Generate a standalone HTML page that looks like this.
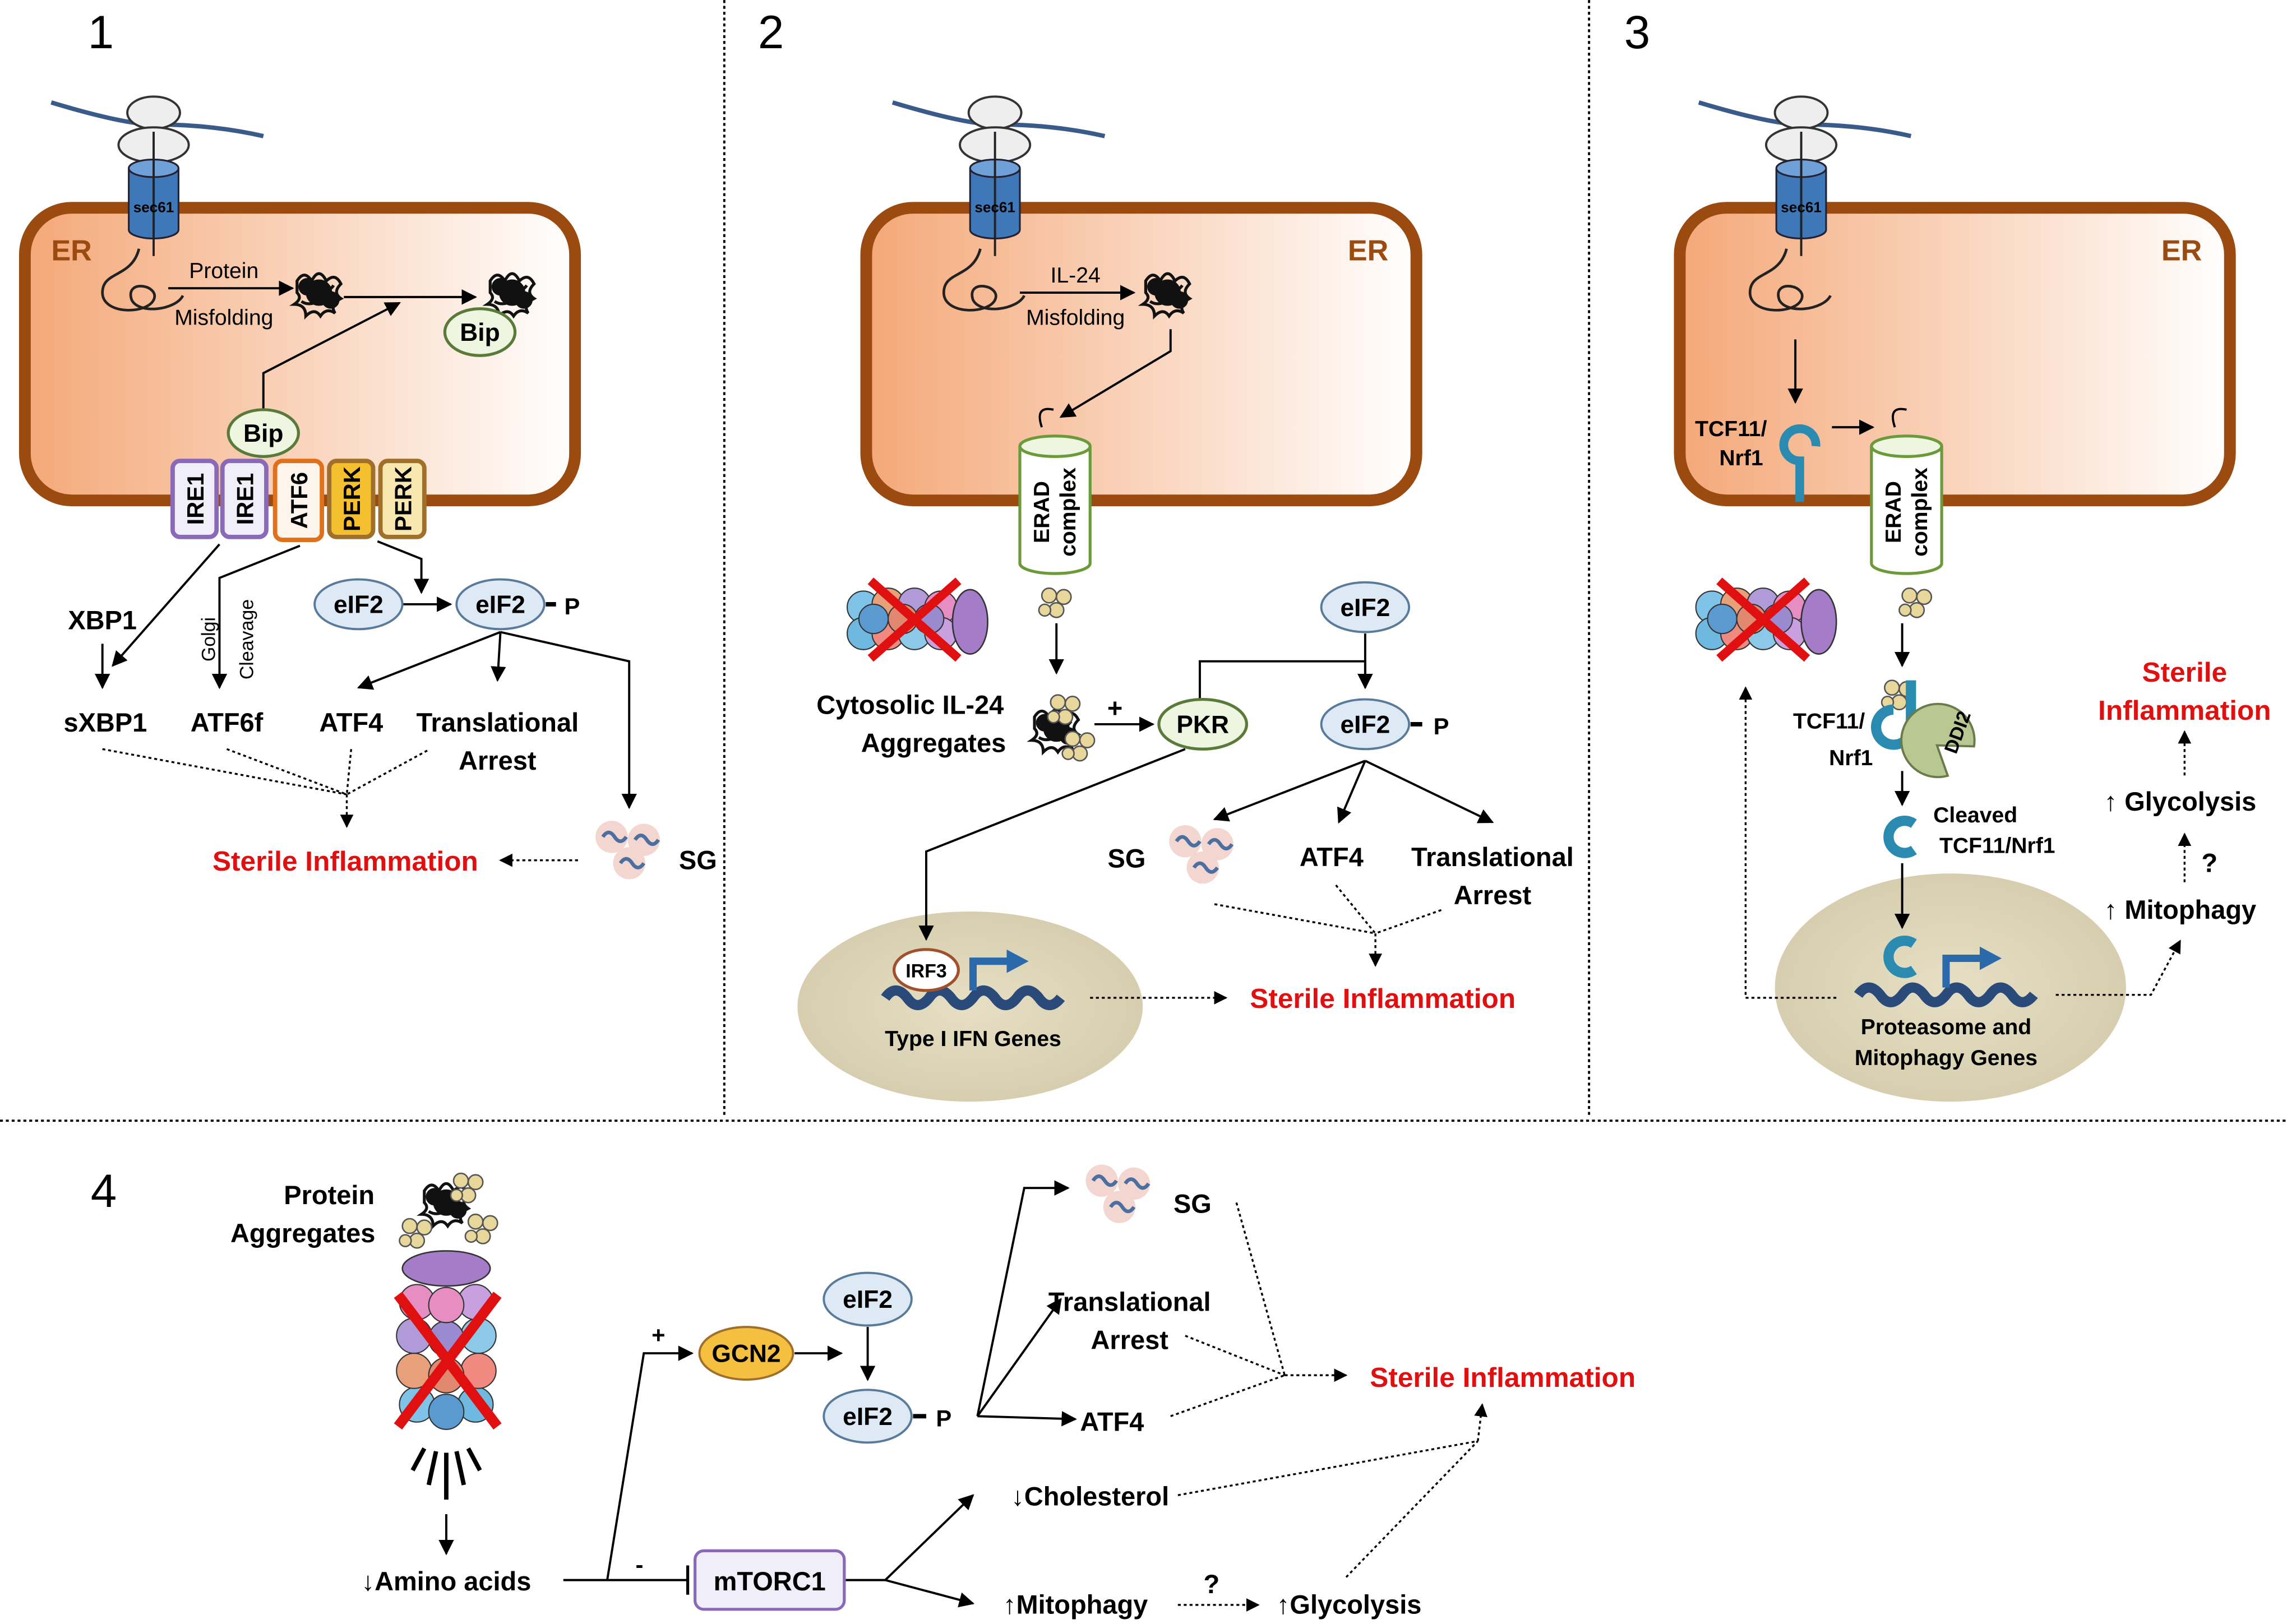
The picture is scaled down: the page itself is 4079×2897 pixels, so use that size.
<!DOCTYPE html>
<html><head><meta charset="utf-8"><style>html,body{margin:0;padding:0;background:#fff}svg{display:block}</style></head><body>
<svg xmlns="http://www.w3.org/2000/svg" xmlns:xlink="http://www.w3.org/1999/xlink" width="4079" height="2897" viewBox="0 0 1563 1110" font-family="Liberation Sans, sans-serif">
<defs>
<marker id="a" viewBox="0 0 10 10" refX="9" refY="5" markerWidth="7" markerHeight="7" orient="auto-start-reverse"><path d="M0,0L10,5L0,10z" fill="#000"/></marker>
<linearGradient id="er" x1="0" x2="1" y1="0" y2="0"><stop offset="0" stop-color="#f4a878"/><stop offset="1" stop-color="#fff"/></linearGradient>
<radialGradient id="nuc"><stop offset="0" stop-color="#e6dfc4"/><stop offset="1" stop-color="#d6ceae"/></radialGradient>
<g id="ribo"><path d="M-70,-25 Q-20,-10 0,-10 Q40,-10 75,-2" stroke="#3a5a8a" stroke-width="3" fill="none"/><ellipse cx="0" cy="-18" rx="18" ry="11" fill="#eee" stroke="#333" stroke-width="1.5"/><ellipse cx="0" cy="4" rx="24" ry="12" fill="#eee" stroke="#333" stroke-width="1.5"/>
<path d="M-17,20 v42 a17,6 0 0 0 34,0 v-42" fill="#3f78b8" stroke="#223" stroke-width="1.2"/><ellipse cx="0" cy="20" rx="17" ry="6" fill="#6fa0d8" stroke="#223" stroke-width="1.2"/><line x1="0" y1="-5" x2="0" y2="80" stroke="#222" stroke-width="1.5"/><text x="0" y="50" font-size="10" font-weight="bold" text-anchor="middle">sec61</text></g>
<g id="fold"><path d="M0,0 C-5,20 -25,15 -25,30 C-25,45 5,45 10,35 C15,25 -10,20 -5,35 C0,45 25,42 30,32" stroke="#222" stroke-width="1.8" fill="none"/></g>
<g id="agg" fill="none" stroke="#111" stroke-width="2"><path d="M-15,-8 q5,-8 10,0 q5,-10 10,0 q6,-6 10,2 q-6,6 0,10 q-8,4 -4,10 q-6,-4 -10,2 q-4,-6 -10,0 q0,-8 -8,-8 q6,-4 2,-8z"/><path d="M-10,0 q8,-4 14,2 q-4,6 -10,2 M0,-5 q6,6 10,0 M-12,6 q6,4 14,-2"/><circle cx="0" cy="0" r="8" fill="#111"/><circle cx="8" cy="5" r="5" fill="#111"/><circle cx="-8" cy="-4" r="5" fill="#111"/></g>
<g id="yb" fill="#e8d79a" stroke="#555" stroke-width="1"><circle cx="-5" cy="-5" r="5"/><circle cx="5" cy="-4" r="5"/><circle cx="0" cy="5" r="5"/><circle cx="-8" cy="5" r="4"/></g>
<g id="sg"><circle cx="-12" cy="-8" r="11" fill="#f3d6d0"/><circle cx="10" cy="-6" r="11" fill="#f3d6d0"/><circle cx="0" cy="10" r="11" fill="#f3d6d0"/><g stroke="#4a6fa0" stroke-width="2.5" fill="none"><path d="M-18,-8 q4,-6 8,0 q4,6 8,0"/><path d="M4,-6 q4,-6 8,0 q4,6 8,0"/><path d="M-6,10 q4,-6 8,0 q4,6 8,0"/></g></g>
<g id="prot"><g stroke="#333" stroke-width="0.8"><circle cx="-35" cy="-10" r="11" fill="#7fc4e8"/><circle cx="-18" cy="-12" r="11" fill="#e8a07a"/><circle cx="0" cy="-12" r="11" fill="#b09ad8"/><circle cx="18" cy="-10" r="11" fill="#e68ec4"/><circle cx="-35" cy="8" r="11" fill="#6fb8e0"/><circle cx="-18" cy="8" r="11" fill="#f08a80"/><circle cx="0" cy="8" r="11" fill="#8cc8e8"/><circle cx="18" cy="8" r="11" fill="#c8a0e0"/><circle cx="-28" cy="-2" r="10" fill="#5a9ad0"/><circle cx="-8" cy="-2" r="10" fill="#e08870"/><circle cx="10" cy="-2" r="10" fill="#9a8ad0"/></g><ellipse cx="38" cy="0" rx="12" ry="22" fill="#a47cc8" stroke="#333"/><path d="M-30,-28 L30,25 M30,-28 L-30,25" stroke="#e01010" stroke-width="6"/></g>
<g id="erad"><path d="M-24,0 v80 a24,7 0 0 0 48,0 v-80" fill="#fff" stroke="#6a9a3a" stroke-width="2"/><ellipse cx="0" cy="0" rx="24" ry="7" fill="#eef5e0" stroke="#6a9a3a" stroke-width="2"/><text transform="translate(-4,45) rotate(-90)" font-size="15" font-weight="bold" text-anchor="middle">ERAD</text><text transform="translate(14,45) rotate(-90)" font-size="15" font-weight="bold" text-anchor="middle">complex</text></g>
<g id="dna"><path d="M-60,0 q7,-10 15,0 q7,10 15,0 q7,-10 15,0 q7,10 15,0 q7,-10 15,0 q7,10 15,0 q7,-10 15,0 q7,10 15,0" stroke="#2a4a7a" stroke-width="7" fill="none"/><path d="M0,-5 v-20 h25" stroke="#2a6aaa" stroke-width="5" fill="none"/><path d="M23,-33 l15,8 l-15,8z" fill="#2a6aaa"/></g>
</defs>
<g stroke="#000" stroke-width="1.5" stroke-dasharray="2,2"><line x1="495" y1="0" x2="495" y2="762"/><line x1="1086" y1="0" x2="1086" y2="762"/><line x1="0" y1="766" x2="1563" y2="766"/></g>
<g font-size="32"><text x="60" y="33">1</text><text x="518" y="33">2</text><text x="1110" y="33">3</text><text x="62" y="825">4</text></g>

<!-- Panel 1 -->
<rect x="17" y="142" width="376" height="200" rx="32" fill="url(#er)" stroke="#9b4a10" stroke-width="8"/>
<text x="35" y="178" font-size="20" font-weight="bold" fill="#9b4a10">ER</text>
<use xlink:href="#ribo" x="105" y="95"/>
<use xlink:href="#fold" x="95" y="170"/>
<line x1="115" y1="197" x2="200" y2="197" stroke="#000" stroke-width="1.5" marker-end="url(#a)"/>
<text x="153" y="190" font-size="15" text-anchor="middle">Protein</text><text x="153" y="222" font-size="15" text-anchor="middle">Misfolding</text>
<use xlink:href="#agg" x="218" y="200"/><use xlink:href="#agg" x="350" y="200"/>
<line x1="235" y1="203" x2="325" y2="203" stroke="#000" stroke-width="1.5" marker-end="url(#a)"/>
<path d="M180,280 v-25 l93,-48" stroke="#000" stroke-width="1.5" fill="none" marker-end="url(#a)"/>
<ellipse cx="328" cy="227" rx="24" ry="16" fill="#eef5e0" stroke="#5a7a3a" stroke-width="2"/><text x="328" y="233" font-size="17" font-weight="bold" text-anchor="middle">Bip</text>
<ellipse cx="180" cy="296" rx="24" ry="16" fill="#eef5e0" stroke="#5a7a3a" stroke-width="2"/><text x="180" y="302" font-size="17" font-weight="bold" text-anchor="middle">Bip</text>
<g stroke-width="3"><rect x="118" y="315" width="30" height="52" rx="5" fill="#f0eef8" stroke="#8a6ab8"/><rect x="152" y="315" width="30" height="52" rx="5" fill="#f0eef8" stroke="#8a6ab8"/><rect x="188" y="315" width="32" height="54" rx="5" fill="#fdf4ec" stroke="#e0701a"/><rect x="225" y="315" width="30" height="52" rx="5" fill="#f5c030" stroke="#a0702a"/><rect x="260" y="315" width="30" height="52" rx="5" fill="#f8e8b0" stroke="#a0702a"/></g>
<g font-size="16" font-weight="bold" text-anchor="middle"><text transform="translate(139,341) rotate(-90)">IRE1</text><text transform="translate(173,341) rotate(-90)">IRE1</text><text transform="translate(210,342) rotate(-90)">ATF6</text><text transform="translate(246,341) rotate(-90)">PERK</text><text transform="translate(281,341) rotate(-90)">PERK</text></g>
<g stroke="#000" stroke-width="1.5" fill="none"><line x1="150" y1="372" x2="77" y2="455" marker-end="url(#a)"/><line x1="70" y1="440" x2="70" y2="470" marker-end="url(#a)"/><path d="M205,373 L150,395 V470" marker-end="url(#a)"/><path d="M258,370 L288,382 V405" marker-end="url(#a)"/><line x1="275" y1="413" x2="308" y2="413" marker-end="url(#a)"/><path d="M342,432 L245,470" marker-end="url(#a)"/><path d="M342,432 L340,465" marker-end="url(#a)"/><path d="M342,432 L430,452 V552" marker-end="url(#a)"/><line x1="373" y1="413" x2="380" y2="413" stroke-width="3"/></g>
<g font-size="18" font-weight="bold" text-anchor="middle"><text x="70" y="430">XBP1</text><text x="72" y="500">sXBP1</text><text x="155" y="500">ATF6f</text><text x="240" y="500">ATF4</text><text x="340" y="500">Translational</text><text x="340" y="526">Arrest</text><text x="477" y="594">SG</text><text x="391" y="420" font-size="16">P</text></g>
<text transform="translate(147,437) rotate(-90)" font-size="13" text-anchor="middle">Golgi</text><text transform="translate(173,437) rotate(-90)" font-size="13" text-anchor="middle">Cleavage</text>
<ellipse cx="245" cy="413" rx="30" ry="17" fill="#ddeaf6" stroke="#5a7a9a" stroke-width="1.5"/><text x="245" y="419" font-size="17" font-weight="bold" text-anchor="middle">eIF2</text>
<ellipse cx="342" cy="413" rx="30" ry="17" fill="#ddeaf6" stroke="#5a7a9a" stroke-width="1.5"/><text x="342" y="419" font-size="17" font-weight="bold" text-anchor="middle">eIF2</text>
<use xlink:href="#sg" x="430" y="580"/>
<g stroke="#000" stroke-width="1.3" stroke-dasharray="2,2" fill="none"><path d="M70,512 L237,543 M155,512 L237,543 M240,512 L237,543 M292,513 L237,543"/><line x1="237" y1="543" x2="237" y2="565" marker-end="url(#a)"/><line x1="395" y1="588" x2="342" y2="588" marker-end="url(#a)"/></g>
<text x="236" y="595" font-size="19" font-weight="bold" fill="#e01010" text-anchor="middle">Sterile Inflammation</text>

<!-- Panel 2 -->
<rect x="592" y="142" width="376" height="200" rx="32" fill="url(#er)" stroke="#9b4a10" stroke-width="8"/>
<text x="935" y="178" font-size="20" font-weight="bold" fill="#9b4a10" text-anchor="middle">ER</text>
<use xlink:href="#ribo" x="680" y="95"/>
<use xlink:href="#fold" x="670" y="170"/>
<line x1="697" y1="200" x2="775" y2="200" stroke="#000" stroke-width="1.5" marker-end="url(#a)"/>
<text x="735" y="193" font-size="15" text-anchor="middle">IL-24</text><text x="735" y="222" font-size="15" text-anchor="middle">Misfolding</text>
<use xlink:href="#agg" x="798" y="200"/>
<path d="M800,225 V240 L725,285" stroke="#000" stroke-width="1.5" fill="none" marker-end="url(#a)"/>
<path d="M712,292 q-5,-15 8,-12" stroke="#000" stroke-width="1.5" fill="none"/>
<use xlink:href="#erad" x="721" y="305"/>
<use xlink:href="#yb" x="722" y="412"/>
<use xlink:href="#prot" x="625" y="425"/>
<text x="622" y="488" font-size="18" font-weight="bold" text-anchor="middle">Cytosolic IL-24</text><text x="638" y="514" font-size="18" font-weight="bold" text-anchor="middle">Aggregates</text>
<use xlink:href="#agg" x="722" y="498"/><use xlink:href="#yb" x="728" y="485"/><use xlink:href="#yb" x="738" y="510"/>
<ellipse cx="663" cy="688" rx="118" ry="65" fill="url(#nuc)"/>
<g stroke="#000" stroke-width="1.5" fill="none"><line x1="722" y1="426" x2="722" y2="460" marker-end="url(#a)"/><line x1="748" y1="495" x2="788" y2="495" marker-end="url(#a)"/><path d="M820,478 V452 H933 V470" marker-end="url(#a)"/><line x1="933" y1="433" x2="933" y2="470" marker-end="url(#a)"/><path d="M933,520 L830,560" marker-end="url(#a)"/><path d="M933,520 L915,562" marker-end="url(#a)"/><path d="M933,520 L1020,562" marker-end="url(#a)"/><path d="M810,512 L633,582 V642" marker-end="url(#a)"/><line x1="964" y1="495" x2="972" y2="495" stroke-width="3"/></g>
<text x="762" y="490" font-size="18" font-weight="bold" text-anchor="middle">+</text>
<ellipse cx="822" cy="495" rx="30" ry="17" fill="#eef5e0" stroke="#5a7a3a" stroke-width="2"/><text x="822" y="501" font-size="17" font-weight="bold" text-anchor="middle">PKR</text>
<ellipse cx="933" cy="415" rx="30" ry="17" fill="#ddeaf6" stroke="#5a7a9a" stroke-width="1.5"/><text x="933" y="421" font-size="17" font-weight="bold" text-anchor="middle">eIF2</text>
<ellipse cx="933" cy="495" rx="30" ry="17" fill="#ddeaf6" stroke="#5a7a9a" stroke-width="1.5"/><text x="933" y="501" font-size="17" font-weight="bold" text-anchor="middle">eIF2</text>
<text x="985" y="502" font-size="16" font-weight="bold" text-anchor="middle">P</text>
<g font-size="18" font-weight="bold" text-anchor="middle"><text x="770" y="593">SG</text><text x="910" y="592">ATF4</text><text x="1020" y="592">Translational</text><text x="1020" y="618">Arrest</text></g>
<use xlink:href="#sg" x="822" y="583"/>
<use xlink:href="#dna" x="665" y="682"/>
<ellipse cx="633" cy="663" rx="22" ry="14" fill="#fff" stroke="#a0502a" stroke-width="2"/><text x="633" y="668" font-size="13" font-weight="bold" text-anchor="middle">IRF3</text>
<text x="665" y="715" font-size="15" font-weight="bold" text-anchor="middle">Type I IFN Genes</text>
<g stroke="#000" stroke-width="1.3" stroke-dasharray="2,2" fill="none"><path d="M830,618 L940,638 M913,605 L940,638 M985,622 L940,638"/><line x1="940" y1="638" x2="940" y2="660" marker-end="url(#a)"/><line x1="745" y1="682" x2="838" y2="682" marker-end="url(#a)"/></g>
<text x="945" y="689" font-size="19" font-weight="bold" fill="#e01010" text-anchor="middle">Sterile Inflammation</text>

<!-- Panel 3 -->
<rect x="1148" y="142" width="376" height="200" rx="32" fill="url(#er)" stroke="#9b4a10" stroke-width="8"/>
<text x="1491" y="178" font-size="20" font-weight="bold" fill="#9b4a10" text-anchor="middle">ER</text>
<use xlink:href="#ribo" x="1231" y="95"/>
<use xlink:href="#fold" x="1221" y="170"/>
<ellipse cx="1333" cy="675" rx="120" ry="78" fill="url(#nuc)"/>
<g stroke="#000" stroke-width="1.5" fill="none"><line x1="1227" y1="232" x2="1227" y2="275" marker-end="url(#a)"/><line x1="1252" y1="292" x2="1280" y2="292" marker-end="url(#a)"/><line x1="1300" y1="426" x2="1300" y2="455" marker-end="url(#a)"/><line x1="1300" y1="527" x2="1300" y2="550" marker-end="url(#a)"/><line x1="1300" y1="590" x2="1300" y2="634" marker-end="url(#a)"/></g>
<path d="M1295,292 q-5,-15 8,-12" stroke="#000" stroke-width="1.5" fill="none"/>
<text x="1183" y="298" font-size="15" font-weight="bold" text-anchor="middle">TCF11/</text><text x="1190" y="318" font-size="15" font-weight="bold" text-anchor="middle">Nrf1</text>
<g transform="translate(1230,305)"><path d="M0,38 v-28 a11,11 0 1 1 11,-10" stroke="#2a8ab0" stroke-width="6" fill="none"/></g>
<use xlink:href="#erad" x="1303" y="305"/>
<use xlink:href="#yb" x="1310" y="412"/>
<use xlink:href="#prot" x="1205" y="425"/>
<use xlink:href="#yb" x="1298" y="475"/>
<path d="M1306,465 v30 a12,12 0 1 1 -12,-10" stroke="#2a8ab0" stroke-width="7" fill="none"/>
<path d="M1330,480 a25,25 0 1 1 -10,25 l24,-8z" fill="#b8c890" stroke="#6a7a4a" stroke-width="1.5" transform="rotate(200 1335 505)"/>
<text transform="translate(1342,502) rotate(-70)" font-size="13" font-weight="bold" text-anchor="middle">DDI2</text>
<text x="1250" y="498" font-size="15" font-weight="bold" text-anchor="middle">TCF11/</text><text x="1265" y="523" font-size="15" font-weight="bold" text-anchor="middle">Nrf1</text>
<path d="M1308,563 a11,11 0 1 0 0,18" stroke="#2a8ab0" stroke-width="7" fill="none"/>
<text x="1350" y="562" font-size="15" font-weight="bold" text-anchor="middle">Cleaved</text><text x="1365" y="583" font-size="15" font-weight="bold" text-anchor="middle">TCF11/Nrf1</text>
<use xlink:href="#dna" x="1330" y="680"/>
<path d="M1308,645 a11,11 0 1 0 0,18" stroke="#2a8ab0" stroke-width="7" fill="none"/>
<text x="1330" y="707" font-size="15" font-weight="bold" text-anchor="middle">Proteasome and</text><text x="1330" y="728" font-size="15" font-weight="bold" text-anchor="middle">Mitophagy Genes</text>
<g stroke="#000" stroke-width="1.3" stroke-dasharray="2,2" fill="none"><path d="M1255,682 H1193 V470" marker-end="url(#a)"/><path d="M1405,680 H1470 L1490,643" marker-end="url(#a)"/><line x1="1493" y1="603" x2="1493" y2="570" marker-end="url(#a)"/><line x1="1493" y1="530" x2="1493" y2="500" marker-end="url(#a)"/></g>
<g font-size="18" font-weight="bold" text-anchor="middle"><text x="1490" y="628">↑ Mitophagy</text><text x="1510" y="596">?</text><text x="1490" y="554">↑ Glycolysis</text></g>
<text x="1493" y="466" font-size="19" font-weight="bold" fill="#e01010" text-anchor="middle">Sterile</text><text x="1493" y="492" font-size="19" font-weight="bold" fill="#e01010" text-anchor="middle">Inflammation</text>

<!-- Panel 4 -->
<text x="225" y="823" font-size="18" font-weight="bold" text-anchor="middle">Protein</text><text x="207" y="849" font-size="18" font-weight="bold" text-anchor="middle">Aggregates</text>
<use xlink:href="#agg" x="305" y="822"/><use xlink:href="#yb" x="285" y="843"/><use xlink:href="#yb" x="330" y="840"/><use xlink:href="#yb" x="320" y="812"/>
<g transform="translate(305,925) rotate(-90)">
<g stroke="#333" stroke-width="0.8"><circle cx="-35" cy="-20" r="12" fill="#7fc4e8"/><circle cx="-12" cy="-22" r="12" fill="#e8a07a"/><circle cx="12" cy="-22" r="12" fill="#b09ad8"/><circle cx="35" cy="-20" r="12" fill="#e68ec4"/><circle cx="-35" cy="20" r="12" fill="#6fb8e0"/><circle cx="-12" cy="22" r="12" fill="#f08a80"/><circle cx="12" cy="22" r="12" fill="#8cc8e8"/><circle cx="35" cy="20" r="12" fill="#c8a0e0"/><circle cx="-40" cy="0" r="12" fill="#5a9ad0"/><circle cx="-15" cy="0" r="12" fill="#e08870"/><circle cx="10" cy="0" r="12" fill="#9a8ad0"/><circle cx="33" cy="0" r="12" fill="#e68ec4"/></g>
<ellipse cx="58" cy="0" rx="12" ry="30" fill="#a47cc8" stroke="#333"/></g>
<path d="M272,885 L340,975 M340,885 L272,975" stroke="#e01010" stroke-width="7"/>
<g stroke="#000" stroke-width="3"><line x1="290" y1="990" x2="282" y2="1005"/><line x1="298" y1="992" x2="293" y2="1015"/><line x1="305" y1="993" x2="305" y2="1025"/><line x1="312" y1="992" x2="317" y2="1015"/><line x1="320" y1="990" x2="328" y2="1005"/></g>
<g stroke="#000" stroke-width="1.5" fill="none"><line x1="305" y1="1035" x2="305" y2="1062" marker-end="url(#a)"/><path d="M385,1080 H415 L440,925 H473" marker-end="url(#a)"/><line x1="415" y1="1080" x2="470" y2="1080"/><line x1="470" y1="1070" x2="470" y2="1090" stroke-width="2"/><line x1="543" y1="925" x2="575" y2="925" marker-end="url(#a)"/><line x1="593" y1="907" x2="593" y2="943" marker-end="url(#a)"/><path d="M668,968 L700,812 H730" marker-end="url(#a)"/><line x1="668" y1="968" x2="725" y2="888" marker-end="url(#a)"/><line x1="668" y1="968" x2="735" y2="970" marker-end="url(#a)"/><line x1="624" y1="968" x2="633" y2="968" stroke-width="3"/><path d="M578,1080 H605 L665,1022" marker-end="url(#a)"/><path d="M605,1080 L665,1096" marker-end="url(#a)"/></g>
<text x="305" y="1087" font-size="18" font-weight="bold" text-anchor="middle">↓Amino acids</text>
<text x="450" y="918" font-size="16" font-weight="bold" text-anchor="middle">+</text><text x="437" y="1075" font-size="16" font-weight="bold" text-anchor="middle">-</text>
<ellipse cx="510" cy="925" rx="32" ry="18" fill="#f5c040" stroke="#a0702a" stroke-width="1.5"/><text x="510" y="931" font-size="17" font-weight="bold" text-anchor="middle">GCN2</text>
<ellipse cx="593" cy="888" rx="30" ry="18" fill="#ddeaf6" stroke="#5a7a9a" stroke-width="1.5"/><text x="593" y="894" font-size="17" font-weight="bold" text-anchor="middle">eIF2</text>
<ellipse cx="593" cy="968" rx="30" ry="18" fill="#ddeaf6" stroke="#5a7a9a" stroke-width="1.5"/><text x="593" y="974" font-size="17" font-weight="bold" text-anchor="middle">eIF2</text>
<text x="645" y="975" font-size="16" font-weight="bold" text-anchor="middle">P</text>
<rect x="475" y="1060" width="102" height="40" rx="6" fill="#f0eef8" stroke="#8a6ab8" stroke-width="2"/><text x="526" y="1087" font-size="18" font-weight="bold" text-anchor="middle">mTORC1</text>
<use xlink:href="#sg" x="765" y="815"/>
<g font-size="18" font-weight="bold" text-anchor="middle"><text x="815" y="829">SG</text><text x="772" y="896">Translational</text><text x="772" y="922">Arrest</text><text x="760" y="978">ATF4</text><text x="745" y="1029">↓Cholesterol</text><text x="735" y="1103">↑Mitophagy</text><text x="828" y="1089">?</text><text x="922" y="1103">↑Glycolysis</text></g>
<g stroke="#000" stroke-width="1.3" stroke-dasharray="2,2" fill="none"><path d="M845,822 L878,940 M810,913 L878,940 M800,968 L878,940"/><line x1="878" y1="940" x2="920" y2="940" marker-end="url(#a)"/><line x1="805" y1="1097" x2="860" y2="1097" marker-end="url(#a)"/><path d="M805,1022 L1010,985 M920,1078 L1010,985"/><line x1="1010" y1="985" x2="1013" y2="960" marker-end="url(#a)"/></g>
<text x="1027" y="948" font-size="19" font-weight="bold" fill="#e01010" text-anchor="middle">Sterile Inflammation</text>
</svg>
</body></html>
